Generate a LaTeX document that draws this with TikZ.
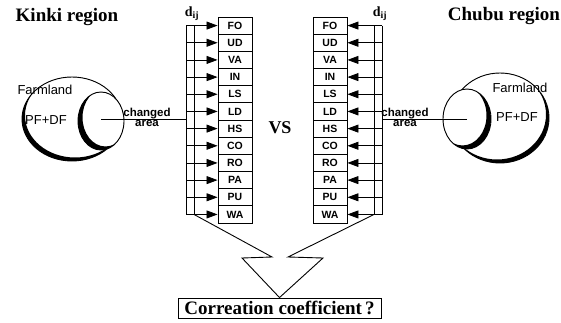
\documentclass[tikz,border=0pt]{standalone}
\usepackage{fontspec}
\setmainfont{Liberation Serif}
\newfontfamily\arialf{Liberation Sans}
\usetikzlibrary{arrows.meta}
\begin{document}
\begin{tikzpicture}[x=1pt,y=-1pt,
  catbox/.style={draw, line width=0.9pt, minimum width=34pt, minimum height=17.17pt, inner sep=0pt, font=\arialf\bfseries\fontsize{10.5}{11}\selectfont},
  feed/.style={line width=0.8pt, -{Triangle[length=11pt,width=8pt]}},
  rail/.style={line width=0.8pt},
  thin/.style={line width=0.9pt},
  titletext/.style={font=\bfseries\fontsize{19}{20}\selectfont, inner sep=0pt},
  sanstext/.style={font=\arialf\fontsize{13}{14}\selectfont, inner sep=0pt},
  smalltext/.style={font=\arialf\bfseries\fontsize{11.5}{12}\selectfont, inner sep=0pt},
]
\useasboundingbox (0,0) rectangle (561,323);

% category boxes
\foreach \t [count=\i] in {FO,UD,VA,IN,LS,LD,HS,CO,RO,PA,PU,WA} {
  \node[catbox] (L\i) at (235, {25.585+(\i-1)*17.17}) {\t};
  \node[catbox] (R\i) at (330, {25.585+(\i-1)*17.17}) {\t};
}

% rails
\coordinate (la) at (186, 25.585);
\coordinate (lb) at (186, 214.455);
\coordinate (la2) at (194, 25.585);
\coordinate (lb2) at (194, 214.455);
\coordinate (ra) at (382, 25.585);
\coordinate (rb) at (382, 214.455);
\coordinate (ra2) at (374, 25.585);
\coordinate (rb2) at (374, 214.455);
\draw[rail] (la) -- (lb) -- (lb2) -- (la2);
\draw[rail] (ra) -- (rb) -- (rb2) -- (ra2);
\foreach \i in {1,...,12} {
  \draw[feed] (la |- L\i) -- (L\i.west);
  \draw[feed] (ra |- R\i) -- (R\i.east);
}
\node[font=\bfseries\fontsize{14}{14}\selectfont, inner sep=0pt] (dl) at (192,14) {d\textsubscript{ij}};
\node[font=\bfseries\fontsize{14}{14}\selectfont, inner sep=0pt] (dr) at (380,14) {d\textsubscript{ij}};

% left farmland
\draw[thin] (72,119) ellipse [x radius=50, y radius=42];
\begin{scope}
  \clip (72,119) ellipse [x radius=50, y radius=42];
  \fill[even odd rule] (72,119) ellipse [x radius=50, y radius=42] (75,115.5) ellipse [x radius=50, y radius=42];
\end{scope}
\filldraw[thin, fill=white] (101,121) ellipse [x radius=23, y radius=29];
\begin{scope}
  \clip (101,121) ellipse [x radius=23, y radius=29];
  \fill[even odd rule] (101,121) ellipse [x radius=23, y radius=29] (105.5,117.5) ellipse [x radius=23, y radius=29];
\end{scope}
\coordinate (lc) at (101,119);
\draw[thin] (lc) -- (la |- lc);
\node[sanstext] (lfarm) at (45,90) {Farmland};
\node[sanstext] (lpf) at (46,120) {PF+DF};
\node[smalltext, anchor=base] (lch) at (147,116.5) {changed};
\node[smalltext, anchor=base] (lar) at (147,127) {area};

% right farmland
\draw[thin] (500,118) ellipse [x radius=49, y radius=45];
\begin{scope}
  \clip (500,118) ellipse [x radius=49, y radius=45];
  \fill[even odd rule] (500,118) ellipse [x radius=49, y radius=45] (497,114.5) ellipse [x radius=49, y radius=45];
\end{scope}
\filldraw[thin, fill=white] (467,119) ellipse [x radius=24, y radius=30];
\begin{scope}
  \clip (467,119) ellipse [x radius=24, y radius=30];
  \fill[even odd rule] (467,119) ellipse [x radius=24, y radius=30] (462.5,115.5) ellipse [x radius=24, y radius=30];
\end{scope}
\coordinate (rc) at (467,119);
\draw[thin] (rc) -- (ra |- rc);
\node[sanstext] (rfarm) at (520,88) {Farmland};
\node[sanstext] (rpf) at (517,117) {PF+DF};
\node[smalltext, anchor=base] (rch) at (405,116.5) {changed};
\node[smalltext, anchor=base] (rar) at (405,127) {area};

% titles
\node[titletext] (kinki) at (67,17) {Kinki region};
\node[titletext] (chubu) at (504,16) {Chubu region};
\node[titletext, font=\bfseries\fontsize{18}{18}\selectfont] (vs) at (280,128) {VS};

% bottom box and callout
\node[draw, line width=0.9pt, titletext, minimum width=203pt, minimum height=20pt] (corr) at (279.5,308) {Correation coefficient\,?};
\coordinate (cl1) at (272,257);
\coordinate (cl2) at (242,258);
\coordinate (cr1) at (288,257);
\coordinate (cr2) at (323,258);
\draw[thin] (lb2) -- (cl1) -- (cl2) -- (corr.north);
\draw[thin] (rb2) -- (cr1) -- (cr2) -- (corr.north);
\end{tikzpicture}
\end{document}
